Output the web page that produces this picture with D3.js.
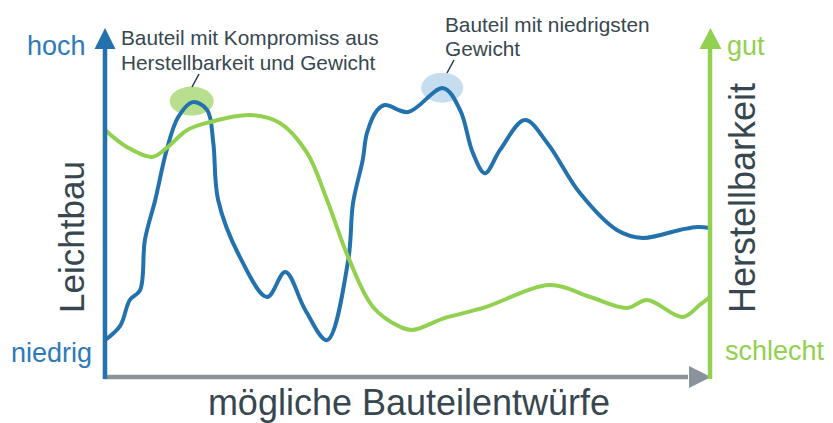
<!DOCTYPE html>
<html>
<head>
<meta charset="utf-8">
<script src="https://cdn.jsdelivr.net/npm/d3@7/dist/d3.min.js"></script>
<style>
  html, body { margin: 0; padding: 0; background: #fff; }
  svg { display: block; font-family: "Liberation Sans", Arial, sans-serif; }
</style>
</head>
<body>
<svg id="chart" width="833" height="423"></svg>
<script>
// Leichtbau (weight performance) across the design candidates
const leichtbauX = [0, 2.5, 4.1, 5.8, 6.6, 8.3, 10.2, 12.1, 14.5, 16.9, 17.9, 18.7, 22.3, 26.8, 29.8, 33.1, 36.7, 40.2, 41.0, 42.6, 43.3, 45.0, 46.3, 50.1, 55.9, 58.7, 60.8, 62.8, 65.3, 69.4, 73.1, 78.5, 84.6, 88.9, 95.0, 97.9, 100];
const leichtbauY = [11.1, 15.4, 23.2, 26.2, 41.3, 53.3, 68.4, 78.3, 82.8, 80.4, 70.5, 53.3, 36.1, 24.1, 31.6, 20.2, 11.1, 35.2, 52.4, 65.4, 73.5, 80.4, 81.9, 79.8, 87.0, 80.4, 67.5, 61.4, 68.4, 77.4, 70.5, 55.4, 44.3, 41.9, 44.3, 45.2, 44.9];

// Herstellbarkeit (manufacturability) across the design candidates
const herstellX = [0, 3.6, 7.8, 10.2, 13.6, 17.4, 24.0, 28.9, 33.4, 36.7, 40.2, 44.3, 48.8, 50.9, 56.2, 62.5, 73.6, 80.2, 86.3, 89.6, 95.5, 98.3, 100];
const herstellY = [74.4, 69.3, 66.3, 69.0, 74.4, 76.8, 78.9, 76.5, 67.5, 53.3, 36.1, 21.1, 15.1, 14.2, 17.8, 20.8, 27.7, 24.1, 20.8, 23.2, 18.1, 21.7, 24.1];

// Highlighted designs: [x, y] on the Leichtbau curve
const kompromissPunkt = [14.5, 82.8];
const leichtestPunkt = [55.9, 87.0];

const axisLabels = { y: "Leichtbau", y2: "Herstellbarkeit", x: "mögliche Bauteilentwürfe" };
const leftEnds = ["hoch", "niedrig"];
const rightEnds = ["gut", "schlecht"];
const noteKompromiss = ["Bauteil mit Kompromiss aus", "Herstellbarkeit und Gewicht"];
const noteLeichtest = ["Bauteil mit niedrigsten", "Gewicht"];

const BLUE = "#2472ad", GREEN = "#92d050", GRAY = "#8a929c", TEXT = "#37474f";
const BLUE_TXT = "#2e7ab8";

const svg = d3.select("#chart");
const x = d3.scaleLinear().domain([0, 100]).range([105, 710]);
const y = d3.scaleLinear().domain([0, 100]).range([377, 45]);

const x0 = x(0), x1 = x(100), yb = y(0), yTop = 28;

// highlight ellipses behind the curves
const hl = svg.append("g");
hl.append("ellipse")
  .attr("cx", x(kompromissPunkt[0]) - 1).attr("cy", y(kompromissPunkt[1]) - 1)
  .attr("rx", 22).attr("ry", 14.5).attr("fill", "#b7df8e");
hl.append("ellipse")
  .attr("cx", x(leichtestPunkt[0]) - 1).attr("cy", y(leichtestPunkt[1]) - 0.5)
  .attr("rx", 21).attr("ry", 15).attr("fill", "#c6ddf0");

// curves
const line = d3.line().x(d => x(d[0])).y(d => y(d[1])).curve(d3.curveCatmullRom.alpha(0.5));
const blueData = d3.zip(leichtbauX, leichtbauY);
const greenData = d3.zip(herstellX, herstellY);

svg.append("path").datum(blueData).attr("d", line)
  .attr("fill", "none").attr("stroke", BLUE).attr("stroke-width", 4).attr("stroke-linejoin", "round").attr("stroke-linecap", "round");
svg.append("path").datum(greenData).attr("d", line)
  .attr("fill", "none").attr("stroke", GREEN).attr("stroke-width", 4).attr("stroke-linejoin", "round").attr("stroke-linecap", "round");

// axes with arrowheads
const axes = svg.append("g");
// x axis (gray)
axes.append("line").attr("x1", x0 - 1).attr("x2", x1 - 22).attr("y1", yb).attr("y2", yb)
  .attr("stroke", GRAY).attr("stroke-width", 4.5);
axes.append("path").attr("d", `M${x1 + 1},${yb} L${x1 - 21},${yb - 11} L${x1 - 21},${yb + 11} Z`).attr("fill", GRAY);
// left axis (blue)
axes.append("line").attr("x1", x0).attr("x2", x0).attr("y1", yb + 2).attr("y2", yTop + 20)
  .attr("stroke", BLUE).attr("stroke-width", 4.5);
axes.append("path").attr("d", `M${x0},${yTop} L${x0 - 10.5},${yTop + 21} L${x0 + 10.5},${yTop + 21} Z`).attr("fill", BLUE);
// right axis (green)
axes.append("line").attr("x1", x1).attr("x2", x1).attr("y1", yb + 2).attr("y2", yTop + 20)
  .attr("stroke", GREEN).attr("stroke-width", 4.5);
axes.append("path").attr("d", `M${x1 + 0.5},${yTop} L${x1 - 10.5},${yTop + 21} L${x1 + 11.5},${yTop + 21} Z`).attr("fill", GREEN);

// end labels
svg.append("text").attr("x", 27).attr("y", 55).attr("font-size", 27).attr("fill", BLUE_TXT).text(leftEnds[0]);
svg.append("text").attr("x", 11).attr("y", 362).attr("font-size", 27).attr("fill", BLUE_TXT).text(leftEnds[1]);
svg.append("text").attr("x", 727).attr("y", 55).attr("font-size", 27).attr("fill", GREEN).text(rightEnds[0]);
svg.append("text").attr("x", 725).attr("y", 360).attr("font-size", 27).attr("fill", GREEN).text(rightEnds[1]);

// axis titles
svg.append("text").attr("transform", "translate(84,237) rotate(-90)")
  .attr("text-anchor", "middle").attr("font-size", 35).attr("fill", TEXT).text(axisLabels.y);
svg.append("text").attr("transform", "translate(755,198) rotate(-90)")
  .attr("text-anchor", "middle").attr("font-size", 36).attr("fill", TEXT).text(axisLabels.y2);
svg.append("text").attr("x", 409).attr("y", 415)
  .attr("text-anchor", "middle").attr("font-size", 36).attr("fill", TEXT).text(axisLabels.x);

// annotations with leader lines
const notes = svg.append("g").attr("fill", TEXT).attr("font-size", 20.8);
noteKompromiss.forEach((t, i) => notes.append("text").attr("x", 121).attr("y", 45 + i * 25).text(t));
noteLeichtest.forEach((t, i) => notes.append("text").attr("x", 445).attr("y", 32 + i * 24).text(t));
svg.append("line").attr("x1", 192).attr("y1", 87).attr("x2", 199).attr("y2", 74)
  .attr("stroke", "#1f3a4d").attr("stroke-width", 1.5);
svg.append("line").attr("x1", 447).attr("y1", 73).attr("x2", 454).attr("y2", 60)
  .attr("stroke", "#1f3a4d").attr("stroke-width", 1.5);
</script>
</body>
</html>
